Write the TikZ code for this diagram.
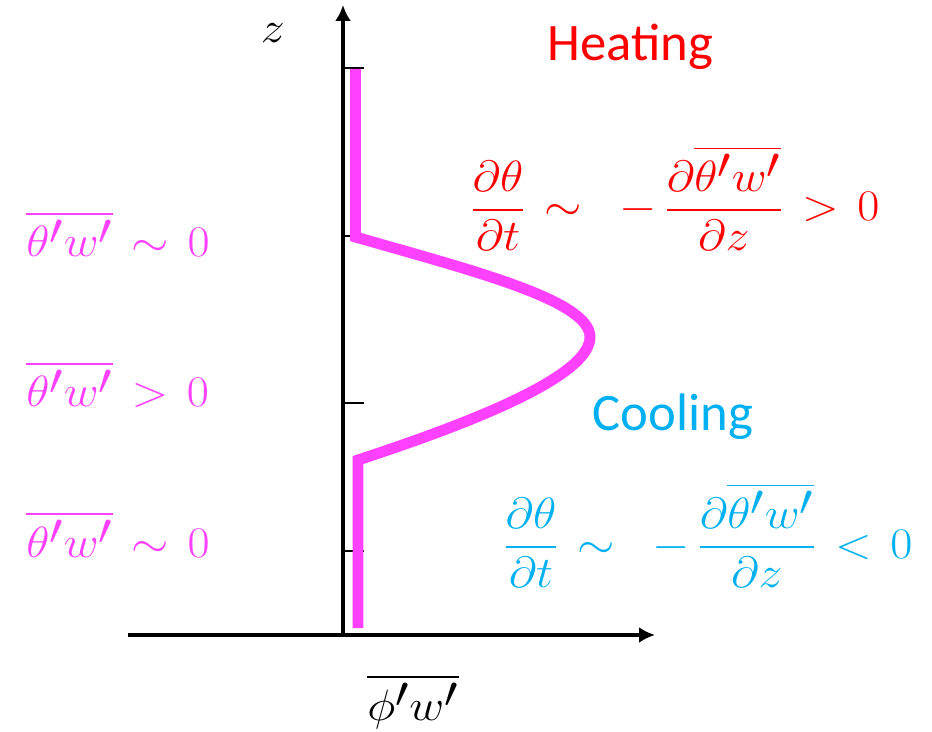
\documentclass[tikz,border=0pt]{standalone}
\usepackage{amsmath}
\usepackage{graphicx}
\usepackage{fontspec}
\newfontfamily\labelfont{Carlito}
\usetikzlibrary{arrows.meta}
\definecolor{pinkflux}{RGB}{255,64,255}
\definecolor{heatred}{RGB}{255,0,0}
\definecolor{coolblue}{RGB}{0,176,240}
\newcommand\mathsize{\fontsize{36}{42}\selectfont\thickmuskip=7mu\relax}
\newcommand\widemath[1]{\scalebox{1.1}[1]{$#1$}}
\tikzset{
  axis/.style={line width=1.8pt,-{Latex[length=9pt,width=9pt]}},
  tick/.style={line width=1.1pt},
  flux/.style={pinkflux,line width=6.2pt,line join=miter},
  lbl/.style={inner sep=0pt,font=\mathsize},
  word/.style={inner sep=0pt,font=\labelfont\fontsize{30}{36}\selectfont}
}
\begin{document}
\begin{tikzpicture}[x=0.02cm,y=-0.02cm,line cap=butt]
\useasboundingbox (0,0) rectangle (932,732);
% Trục toạ độ
\path (343,635) coordinate (O)
      (343,5) coordinate (zTop)
      (128,635) coordinate (xStart)
      (655,635) coordinate (xEnd);
\draw[axis] (xStart) -- (xEnd);
\draw[axis] (O) -- (zTop);
\foreach \y in {68,236,403,551}{
  \draw[tick] (343,\y) -- (364,\y);
}
% Profile of the flux
\path (355.5,69) coordinate (F0)
      (355.5,237) coordinate (F1)
      (590,337) coordinate (F2)
      (358,460) coordinate (F3)
      (358,628) coordinate (F4);
\draw[flux] (F0) -- (F1) .. controls (470,270) and (590,300) .. (F2)
  .. controls (590,375) and (480,420) .. (F3) -- (F4);
% Nhãn
\node[lbl] (zlab) at (273,33) {\widemath{z}};
\node[lbl,anchor=base west] (xlab) at (367,720) {\widemath{\overline{\phi'w'}}};
\node[lbl,pinkflux,anchor=base west] (top) at (26,257) {\widemath{\overline{\theta'w'}\sim 0}};
\node[lbl,pinkflux,anchor=base west] (mid) at (26,407) {\widemath{\overline{\theta'w'}>0}};
\node[lbl,pinkflux,anchor=base west] (bot) at (26,557) {\widemath{\overline{\theta'w'}\sim 0}};
\node[word,heatred] (heat) at (630,47) {Heating};
\node[lbl,heatred,anchor=base west] (heateq) at (470,221)
  {\widemath{\dfrac{\partial\theta}{\partial t}\sim\;-\,\dfrac{\partial\overline{\theta'w'}}{\partial z}>0}};
\node[word,coolblue] (cool) at (673,417) {Cooling};
\node[lbl,coolblue,anchor=base west] (cooleq) at (503,558)
  {\widemath{\dfrac{\partial\theta}{\partial t}\sim\;-\,\dfrac{\partial\overline{\theta'w'}}{\partial z}<0}};
\end{tikzpicture}
\end{document}
